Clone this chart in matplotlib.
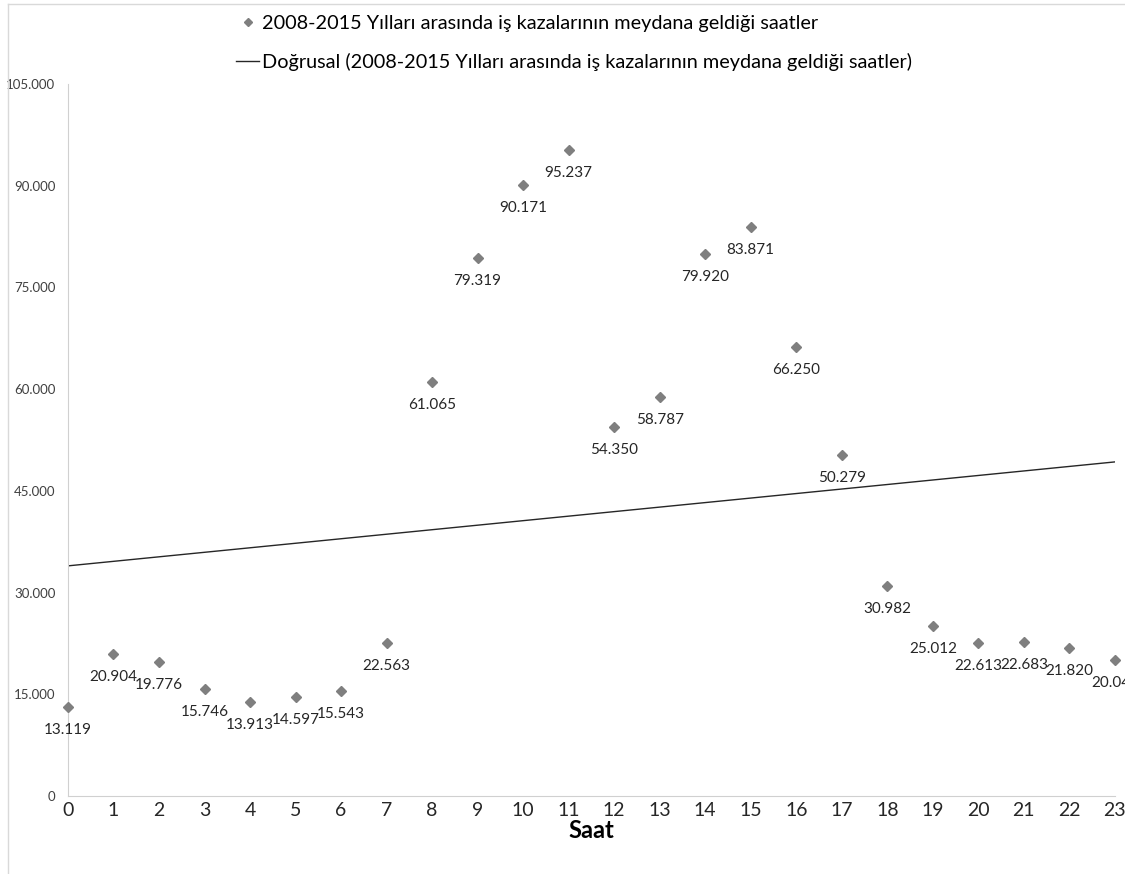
import numpy as np
import matplotlib
matplotlib.use("Agg")
import matplotlib.pyplot as plt
from matplotlib.ticker import FuncFormatter, MultipleLocator
from matplotlib.lines import Line2D

plt.rcParams['font.family'] = ['Lato', 'DejaVu Sans']

hours = list(range(24))
accidents = [13119, 20904, 19776, 15746, 13913, 14597, 15543, 22563,
             61065, 79319, 90171, 95237, 54350, 58787, 79920, 83871,
             66250, 50279, 30982, 25012, 22613, 22683, 21820, 20045]

series_name = "2008-2015 Yılları arasında iş kazalarının meydana geldiği saatler"
trend_name = "Doğrusal (2008-2015 Yılları arasında iş kazalarının meydana geldiği saatler)"

fig = plt.figure(figsize=(11.25, 8.74), dpi=100)
ax = fig.add_axes([0.0604, 0.0892, 0.9306, 0.8147])

pts, = ax.plot(hours, accidents, linestyle="none", marker="D", markersize=5.5,
               color="#7f7f7f", clip_on=False, zorder=3)

# linear trend of the series
slope, icpt = np.polyfit(hours, accidents, 1)
xs = np.array([0, 23])
trend, = ax.plot(xs, slope * xs + icpt, color="#262626", linewidth=1.0)

for h, v in zip(hours, accidents):
    ax.annotate("{:,}".format(v).replace(",", "."), (h, v), xytext=(0, -11.5),
                textcoords="offset points", ha="center", va="top",
                fontsize=11, color="#262626", annotation_clip=False)

ax.set_xlim(0, 23)
ax.set_ylim(0, 105000)
ax.xaxis.set_major_locator(MultipleLocator(1))
ax.yaxis.set_major_locator(MultipleLocator(15000))
ax.yaxis.set_major_formatter(FuncFormatter(lambda v, p: "{:,.0f}".format(v).replace(",", ".")))
ax.tick_params(axis="y", length=0, labelsize=9.5, pad=9, labelcolor="#404040")
ax.tick_params(axis="x", length=0, labelsize=14, pad=4, labelcolor="#262626")
ax.set_xlabel("Saat", fontsize=17, fontweight="bold", labelpad=0)

for s in ["top", "right"]:
    ax.spines[s].set_visible(False)
for s in ["left", "bottom"]:
    ax.spines[s].set_color("#d0d0d0")

fig.legend([pts, trend], [series_name, trend_name], loc="upper left",
           bbox_to_anchor=(0.194, 1.003), frameon=False, fontsize=14.3,
           handlelength=1.15, handletextpad=0.15, labelspacing=1.05,
           markerscale=0.8)

# outer chart border (partly visible)
fig.add_artist(Line2D([8 / 1125, 1], [1 - 4 / 874, 1 - 4 / 874], color="#d9d9d9", lw=1))
fig.add_artist(Line2D([8 / 1125, 8 / 1125], [0, 1 - 4 / 874], color="#d9d9d9", lw=1))

fig.savefig("out.png", dpi=100)
